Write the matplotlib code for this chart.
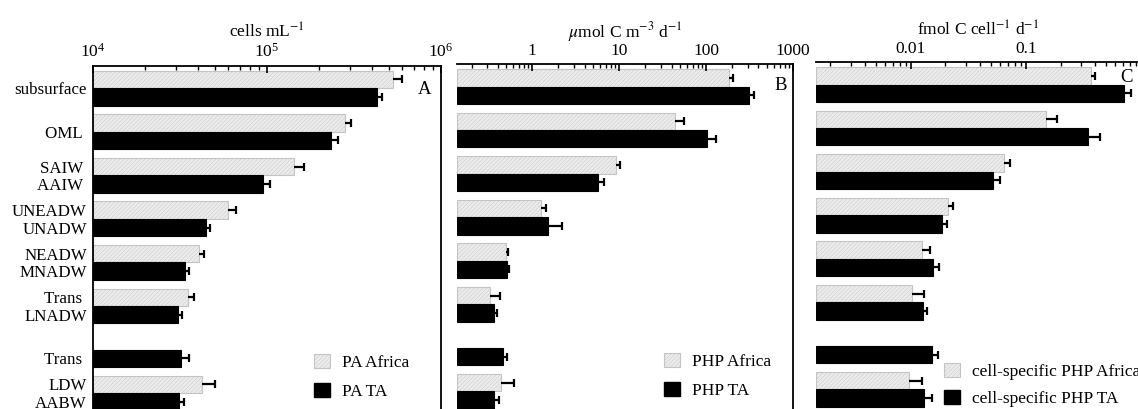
import matplotlib
matplotlib.use("Agg")
import matplotlib.pyplot as plt
import numpy as np
from matplotlib.patches import Patch
from matplotlib.ticker import FuncFormatter
from matplotlib.transforms import blended_transform_factory

plt.rcParams['font.family'] = ['Liberation Serif', 'DejaVu Serif']
plt.rcParams['mathtext.fontset'] = 'stix'
plt.rcParams['hatch.linewidth'] = 0.3

nan = np.nan

# labels per group: (Africa row, TA row) or a single centred label
group_labels = [('subsurface',), ('OML ',), ('SAIW ', 'AAIW '), ('UNEADW', 'UNADW'),
                ('NEADW', 'MNADW'), ('Trans ', 'LNADW'), ('', 'Trans '), ('LDW', 'AABW')]

# panel A: prokaryote abundance, cells mL-1
pa_africa = [531e3, 281e3, 143e3, 59.4e3, 40.6e3, 35.0e3, nan, 42.1e3]
pa_africa_err = [65e3, 22e3, 21e3, 7.3e3, 2.6e3, 2.9e3, nan, 8.4e3]
pa_ta = [431e3, 232e3, 95e3, 44.6e3, 33.9e3, 30.6e3, 32.2e3, 31.3e3]
pa_ta_err = [30e3, 25e3, 9e3, 2.6e3, 1.7e3, 2.0e3, 3.2e3, 2.0e3]

# panel B: PHP, umol C m-3 d-1
php_africa = [185, 43.4, 9.23, 1.26, 0.497, 0.330, nan, 0.431]
php_africa_err = [20, 13, 0.9, 0.16, 0.03, 0.09, nan, 0.18]
php_ta = [312, 101.6, 5.77, 1.52, 0.506, 0.364, 0.463, 0.364]
php_ta_err = [45, 27, 1.0, 0.7, 0.04, 0.028, 0.05, 0.05]

# panel C: cell-specific PHP, fmol C cell-1 d-1
cs_africa = [0.366, 0.149, 0.0647, 0.0211, 0.01253, 0.01014, nan, 0.00955]
cs_africa_err = [0.035, 0.036, 0.008, 0.0022, 0.0021, 0.0028, nan, 0.003]
cs_ta = [0.708, 0.348, 0.0516, 0.0187, 0.01545, 0.01264, 0.01523, 0.01306]
cs_ta_err = [0.105, 0.09, 0.008, 0.002, 0.002, 0.0011, 0.002, 0.0023]

W, H = 1138, 409
fig = plt.figure(figsize=(W / 100, H / 100), dpi=100)

pitch = 43.57  # px per group
ax_h = 360
ytop = -22.5 / pitch
ybot = ytop + ax_h / pitch

FS = 12.5
GRAY_FACE = '#ebebeb'
GRAY_EDGE = '#c4c4c4'

def make_ax(left, right, top):
    return fig.add_axes([left / W, 1 - (top + ax_h) / H, (right - left) / W, ax_h / H])

def panel(ax, af, af_err, ta, ta_err, xlim, xlabel, letter, letter_xy, legend_labels, leg_xy,
          leg_spacing=0.7):
    n = len(ta)
    y = np.arange(n)
    bh = 0.4
    ax.barh(y - 0.2, np.array(af) - xlim[0], left=xlim[0], height=bh,
            color=GRAY_FACE, edgecolor=GRAY_EDGE, hatch='////////', linewidth=0.8)
    ax.barh(y + 0.2, np.array(ta) - xlim[0], left=xlim[0], height=bh,
            color='black', edgecolor='black', linewidth=0.8)
    for v, e, yy in ((af, af_err, y - 0.2), (ta, ta_err, y + 0.2)):
        _, caps, _ = ax.errorbar(v, yy, xerr=[np.zeros(n), e], fmt='none', ecolor='black',
                                 elinewidth=1.6, capsize=2.6, capthick=1.6)
        caps[0].set_visible(False)
    ax.set_xscale('log')
    ax.set_xlim(*xlim)
    ax.set_ylim(ybot, ytop)
    ax.xaxis.tick_top()
    ax.xaxis.set_label_position('top')
    ax.set_xlabel(xlabel, fontsize=FS, labelpad=4)
    ax.tick_params(axis='x', which='both', direction='in', top=True, bottom=False,
                   labelsize=FS, pad=3.5)
    ax.tick_params(axis='x', which='major', length=5, width=1.2)
    ax.tick_params(axis='x', which='minor', length=3, width=1.0)
    ax.tick_params(axis='y', length=0)
    for s in ax.spines.values():
        s.set_linewidth(1.3)
    ax.spines['bottom'].set_visible(False)
    tr = blended_transform_factory(ax.transAxes, ax.transData)
    ax.text(letter_xy[0], letter_xy[1], letter, transform=tr, fontsize=13.5,
            ha='center', va='center')
    handles = [Patch(facecolor=GRAY_FACE, edgecolor=GRAY_EDGE, hatch='////////', linewidth=0.8),
               Patch(facecolor='black', edgecolor='black')]
    ax.legend(handles, legend_labels, loc='upper left', frameon=False, fontsize=FS,
              bbox_to_anchor=(leg_xy[0] / W, 1 - leg_xy[1] / H), bbox_transform=fig.transFigure,
              borderpad=0, borderaxespad=0, handlelength=0.92, handleheight=0.88,
              handletextpad=0.7, labelspacing=leg_spacing)

axA = make_ax(93, 441, 65.7)
axB = make_ax(457, 793, 64)
axC = make_ax(816, 1141, 62)

panel(axA, pa_africa, pa_africa_err, pa_ta, pa_ta_err, (1e4, 1e6),
      r'cells mL$^{-1}$', 'A', (0.952, 0.03), ['PA Africa', 'PA TA'], (314, 354))
panel(axB, php_africa, php_africa_err, php_ta, php_ta_err, (0.136, 1000),
      r'$\mu$mol C m$^{-3}$ d$^{-1}$', 'B', (0.963, -0.03), ['PHP Africa', 'PHP TA'], (664, 353))
panel(axC, cs_africa, cs_africa_err, cs_ta, cs_ta_err, (0.0015, 1.0),
      r'fmol C cell$^{-1}$ d$^{-1}$', 'C', (0.955, -0.17),
      ['cell-specific PHP Africa', 'cell-specific PHP TA'], (944, 363), leg_spacing=0.55)

axB.xaxis.set_major_formatter(FuncFormatter(lambda v, _: f'{v:g}'))
axC.set_xticks([0.01, 0.1], ['0.01', '0.1'])
axB.spines['left'].set_visible(False)
axC.spines['left'].set_visible(False)
axB.set_yticks([])
axC.set_yticks([])

# y labels on panel A
pos, labs = [], []
for i, g in enumerate(group_labels):
    if len(g) == 1:
        pos.append(i)
        labs.append(g[0])
    else:
        for off, t in zip((-0.2, 0.2), g):
            if t:
                pos.append(i + off)
                labs.append(t)
axA.set_yticks(pos, labs, fontsize=12.2)
axA.tick_params(axis='y', pad=4.5)

fig.savefig('out.png', dpi=100)
